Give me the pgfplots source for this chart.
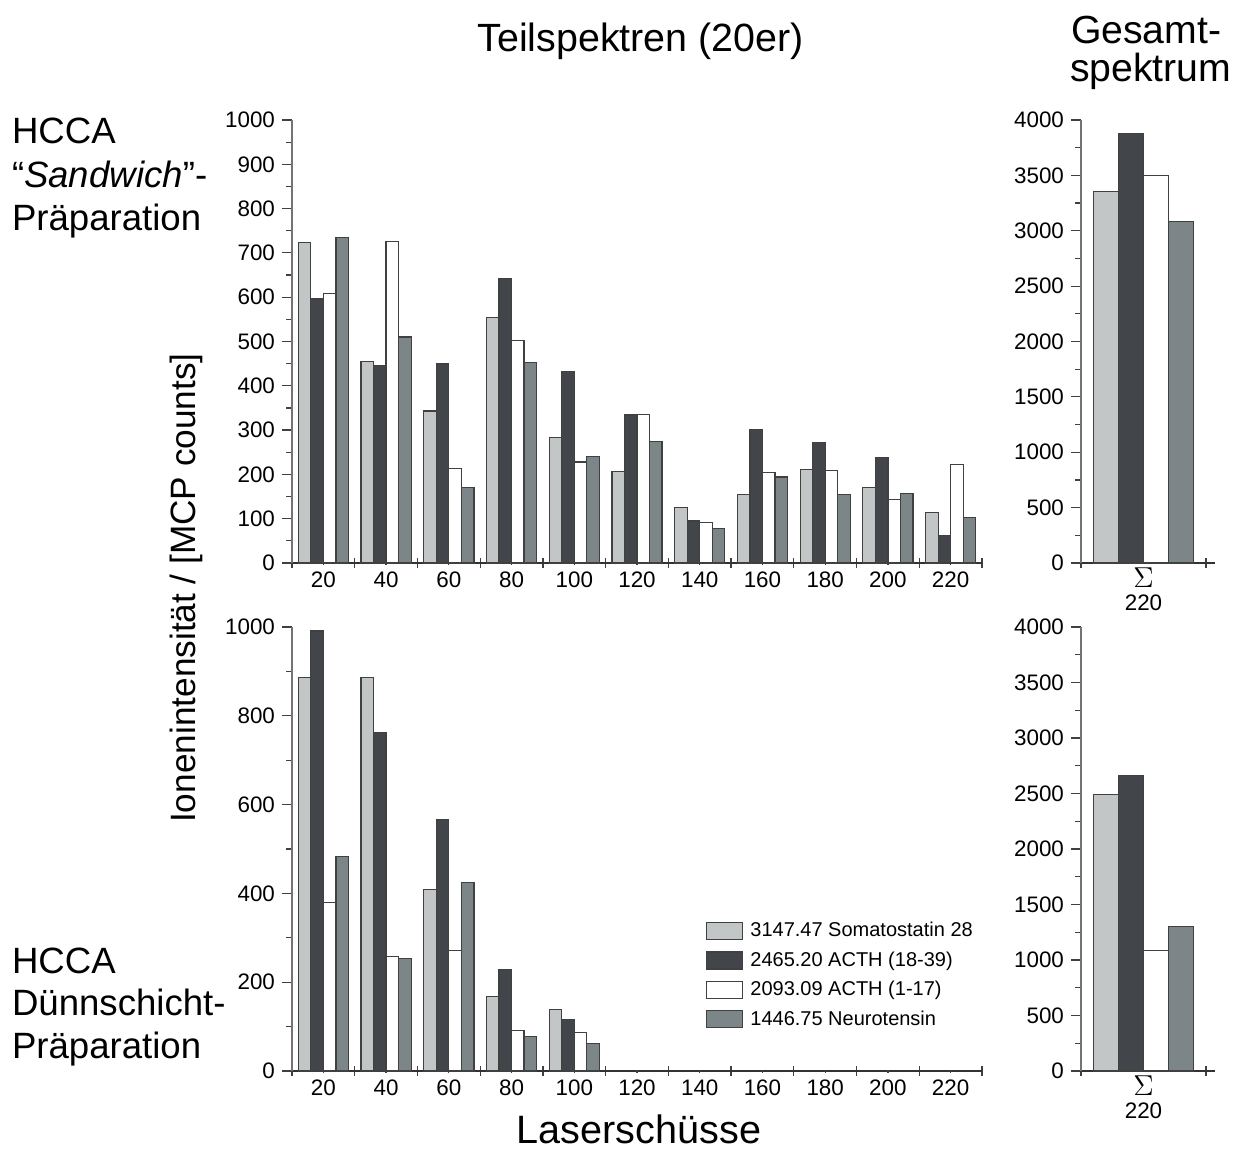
\documentclass[border=0pt]{standalone}
\usepackage{fontspec}
\setmainfont{Liberation Sans}
\usepackage{pgfplots}
\pgfplotsset{compat=1.18}
\definecolor{cA}{RGB}{195,198,199}
\definecolor{cB}{RGB}{66,70,74}
\definecolor{cC}{RGB}{255,255,255}
\definecolor{cD}{RGB}{124,134,136}
\pgfplotsset{
  base/.style={
    scale only axis, anchor=south west,
    axis x line*=bottom, axis y line*=left,
    axis line style={-},
    x axis line style={black!80, line width=0.6pt},
    y axis line style={black!55, line width=0.6pt},
    every tick/.style={black!75, line width=0.6pt},
    ytick align=outside, xtick align=center,
    major tick length=5pt, minor tick length=3pt,
    ymin=0, enlargelimits=false, clip=false,
    xticklabels={},
    ticklabel style={font=\fontsize{11.2}{13}\selectfont},
    /pgf/number format/assume math mode=true,
    /pgf/number format/1000 sep={},
  },
  leftax/.style={base, xmin=-0.5, xmax=10.5, width=345pt,
    xtick={-0.5,0.5,...,10.5},
    extra x ticks={0,1,...,10},
    extra x tick labels={20,40,60,80,100,120,140,160,180,200,220},
    extra x tick style={major tick length=1.5pt},
  },
  rightax/.style={base, xmin=-0.5, xmax=0.572, width=67pt,
    ymax=4000, ytick={0,500,...,4000}, minor y tick num=1,
    xtick={-0.5,0.5},
    extra x ticks={0},
    extra x tick labels={{{\fontsize{15.5}{15.5}\selectfont$\Sigma$}\\[-1.5pt]220}},
    extra x tick style={major tick length=0pt, xticklabel style={align=center, inner sep=2pt}},
  },
  bars/.style={ybar, bar width=0.2, draw=black!75, line width=0.6pt,
    legend image code/.code={\draw[##1] (0pt,-4.25pt) rectangle (18pt,4.25pt);}},
}
\begin{document}
\begin{tikzpicture}
\path[use as bounding box] (0,0) rectangle (617.5pt,-574.5pt);

% top-left
\begin{axis}[leftax, at={(146pt,-281.5pt)}, height=221.5pt,
  ymax=1000, ytick={0,100,...,1000}, minor y tick num=1]
\addplot[bars, bar shift=-0.3, fill=cA] coordinates {(0,724) (1,455) (2,343) (3,554) (4,284) (5,207) (6,125) (7,155) (8,211) (9,171) (10,114)};
\addplot[bars, bar shift=-0.1, fill=cB] coordinates {(0,596) (1,445) (2,449) (3,643) (4,432) (5,334) (6,95) (7,301) (8,272) (9,238) (10,62)};
\addplot[bars, bar shift=0.1, fill=cC] coordinates {(0,609) (1,726) (2,214) (3,502) (4,228) (5,336) (6,92) (7,204) (8,208) (9,144) (10,222)};
\addplot[bars, bar shift=0.3, fill=cD] coordinates {(0,735) (1,510) (2,171) (3,452) (4,241) (5,274) (6,77) (7,194) (8,155) (9,157) (10,102)};
\end{axis}

% bottom-left
\begin{axis}[leftax, at={(146pt,-535.5pt)}, height=222pt,
  ymax=1000, ytick={0,200,...,1000}, minor y tick num=1,
  legend style={draw=none, fill=none, at={(0.6,0.3356)}, anchor=north west,
    inner sep=0pt, outer sep=0pt, font=\fontsize{10}{12}\selectfont,
    row sep=5.6pt, nodes={inner sep=0pt},
    /tikz/every odd column/.append style={column sep=3.6pt}},
  legend cell align=left]
\addplot[bars, bar shift=-0.3, fill=cA] coordinates {(0,887) (1,887) (2,409) (3,168) (4,139)};
\addplot[bars, bar shift=-0.1, fill=cB] coordinates {(0,991) (1,763) (2,567) (3,228) (4,116)};
\addplot[bars, bar shift=0.1, fill=cC] coordinates {(0,379) (1,258) (2,272) (3,92) (4,87)};
\addplot[bars, bar shift=0.3, fill=cD] coordinates {(0,484) (1,254) (2,424) (3,77) (4,62)};
\legend{3147.47 Somatostatin 28, 2465.20 ACTH (18-39), 2093.09 ACTH (1-17), 1446.75 Neurotensin}
\end{axis}

% top-right
\begin{axis}[rightax, at={(540.5pt,-281.5pt)}, height=221.5pt]
\addplot[bars, bar shift=-0.3, fill=cA] coordinates {(0,3356)};
\addplot[bars, bar shift=-0.1, fill=cB] coordinates {(0,3880)};
\addplot[bars, bar shift=0.1, fill=cC] coordinates {(0,3498)};
\addplot[bars, bar shift=0.3, fill=cD] coordinates {(0,3080)};
\end{axis}

% bottom-right
\begin{axis}[rightax, at={(540.5pt,-535.5pt)}, height=222pt]
\addplot[bars, bar shift=-0.3, fill=cA] coordinates {(0,2492)};
\addplot[bars, bar shift=-0.1, fill=cB] coordinates {(0,2663)};
\addplot[bars, bar shift=0.1, fill=cC] coordinates {(0,1088)};
\addplot[bars, bar shift=0.3, fill=cD] coordinates {(0,1301)};
\end{axis}

% texts
\begin{scope}[every node/.style={inner sep=0pt, outer sep=0pt}]
\node[anchor=base, font=\fontsize{19.7}{24}\selectfont] at (320.25pt,-26pt) {Teilspektren (20er)};
\node[anchor=base west, font=\fontsize{19.6}{24}\selectfont] at (535.5pt,-22pt) {Gesamt-};
\node[anchor=base west, font=\fontsize{19.6}{24}\selectfont] at (535pt,-41pt) {spektrum};
\node[anchor=base west, font=\fontsize{18.3}{22}\selectfont] at (6pt,-72pt) {HCCA};
\node[anchor=base west, font=\fontsize{18.3}{22}\selectfont] at (6pt,-94pt) {“\textit{Sandwich}”-};
\node[anchor=base west, font=\fontsize{18.3}{22}\selectfont] at (6pt,-115.5pt) {Präparation};
\node[anchor=base west, font=\fontsize{18.3}{22}\selectfont] at (6pt,-486.5pt) {HCCA};
\node[anchor=base west, font=\fontsize{18.3}{22}\selectfont] at (6pt,-507.5pt) {Dünnschicht-};
\node[anchor=base west, font=\fontsize{18.3}{22}\selectfont] at (6pt,-529pt) {Präparation};
\node[anchor=base, rotate=90, font=\fontsize{17.6}{22}\selectfont] at (97.5pt,-294pt) {Ionenintensität / [MCP counts]};
\node[anchor=base, font=\fontsize{19.8}{24}\selectfont] at (319.5pt,-571.5pt) {Laserschüsse};
\end{scope}
\end{tikzpicture}
\end{document}
